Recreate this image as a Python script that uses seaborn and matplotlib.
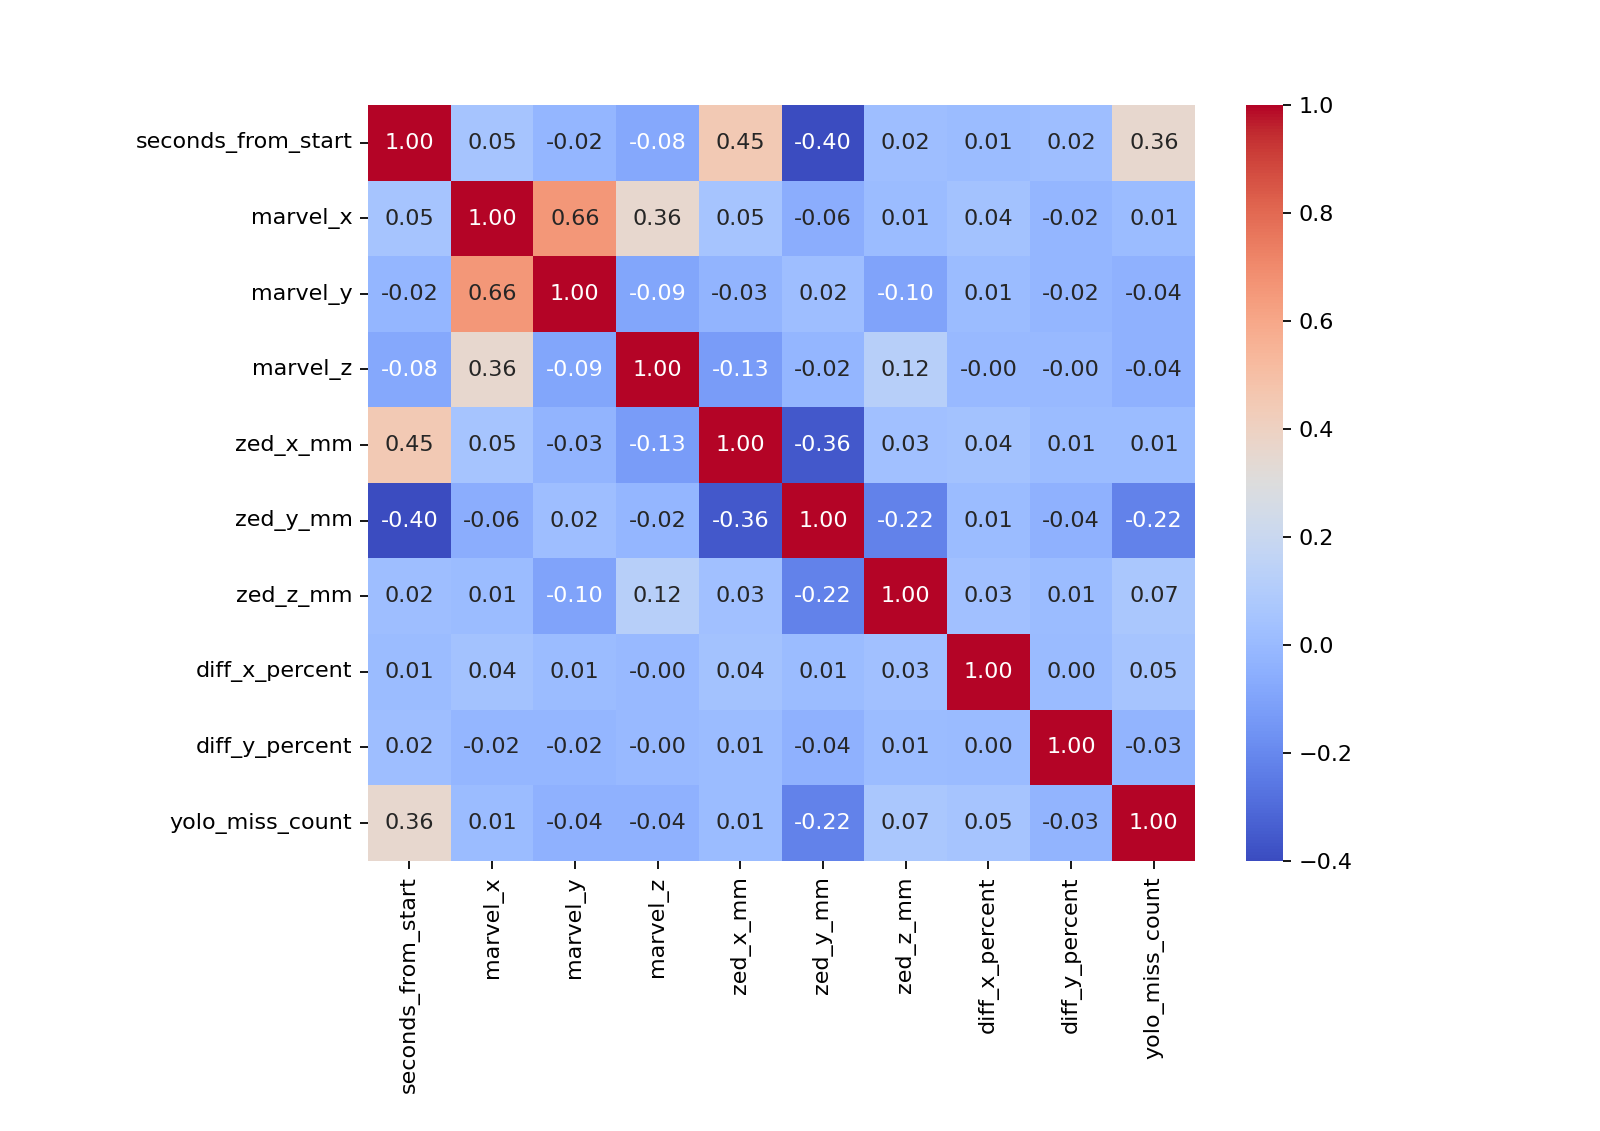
import matplotlib
matplotlib.use("Agg")
import matplotlib.pyplot as plt
import seaborn as sns
import numpy as np
import pandas as pd

labels = ["seconds_from_start", "marvel_x", "marvel_y", "marvel_z", "zed_x_mm",
          "zed_y_mm", "zed_z_mm", "diff_x_percent", "diff_y_percent", "yolo_miss_count"]
row_seconds = [1.00, 0.05, -0.02, -0.08, 0.45, -0.40, 0.02, 0.01, 0.02, 0.36]
row_marvel_x = [0.05, 1.00, 0.66, 0.36, 0.05, -0.06, 0.01, 0.04, -0.02, 0.01]
row_marvel_y = [-0.02, 0.66, 1.00, -0.09, -0.03, 0.02, -0.10, 0.01, -0.02, -0.04]
row_marvel_z = [-0.08, 0.36, -0.09, 1.00, -0.13, -0.02, 0.12, -0.004, -0.004, -0.04]
row_zed_x = [0.45, 0.05, -0.03, -0.13, 1.00, -0.36, 0.03, 0.04, 0.01, 0.01]
row_zed_y = [-0.40, -0.06, 0.02, -0.02, -0.36, 1.00, -0.22, 0.01, -0.04, -0.22]
row_zed_z = [0.02, 0.01, -0.10, 0.12, 0.03, -0.22, 1.00, 0.03, 0.01, 0.07]
row_diff_x = [0.01, 0.04, 0.01, -0.004, 0.04, 0.01, 0.03, 1.00, 0.00, 0.05]
row_diff_y = [0.02, -0.02, -0.02, -0.004, 0.01, -0.04, 0.01, 0.00, 1.00, -0.03]
row_yolo = [0.36, 0.01, -0.04, -0.04, 0.01, -0.22, 0.07, 0.05, -0.03, 1.00]

df = pd.DataFrame([row_seconds, row_marvel_x, row_marvel_y, row_marvel_z, row_zed_x,
                   row_zed_y, row_zed_z, row_diff_x, row_diff_y, row_yolo],
                  index=labels, columns=labels)

fig = plt.figure(figsize=(10, 7.07), dpi=160)
ax = fig.add_axes([0.23, 0.239, 0.517, 0.668])
cax = fig.add_axes([0.779, 0.239, 0.023, 0.668])
sns.heatmap(df, annot=True, fmt=".2f", cmap="coolwarm", ax=ax, cbar_ax=cax)
plt.setp(ax.get_xticklabels(), rotation=90)
plt.setp(ax.get_yticklabels(), rotation=0)
fig.savefig("out.png", dpi=160)
